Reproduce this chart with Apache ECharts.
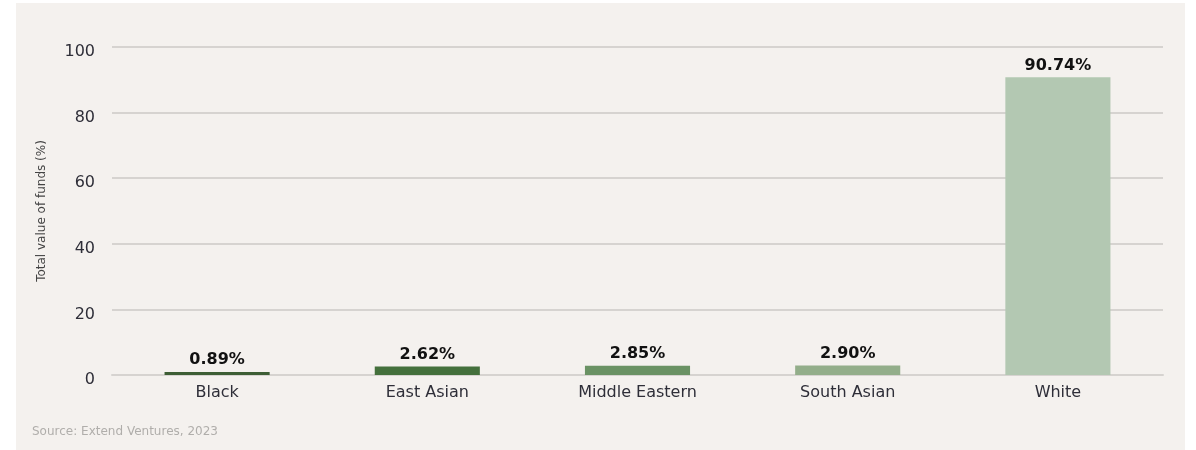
<!DOCTYPE html>
<html>
<head>
<meta charset="utf-8">
<script src="https://cdn.jsdelivr.net/npm/echarts@6/dist/echarts.min.js"></script>
<style>
  html, body { margin: 0; padding: 0; background: #ffffff; }
  .panel { position: absolute; left: 16px; top: 3px; width: 1169px; height: 447px; background: #f4f1ee; }
  .chart { position: absolute; left: 0; top: 0; width: 1196px; height: 450px; }
</style>
</head>
<body>
<div class="panel"></div>
<div class="chart"></div>
<script>
// 数据
var categories = ["Black", "East Asian", "Middle Eastern", "South Asian", "White"];
var values = [0.89, 2.62, 2.85, 2.90, 90.74];
var barColors = ["#3d5e35", "#44703c", "#6a9264", "#93ae8a", "#b3c8b2"];
var yTicks = { min: 0, max: 100, interval: 20 };

(function() {
    var myChart = echarts.init(document.querySelector(".chart"));
    var font = "'DejaVu Sans', sans-serif";
    var option = {
        backgroundColor: "transparent",
        textStyle: { fontFamily: font },
        grid: { left: 112, right: 33, top: 47, bottom: 75 },
        xAxis: {
            type: "category",
            data: categories,
            axisTick: { show: false },
            axisLine: { lineStyle: { color: "#d6d3d0", width: 2 } },
            axisLabel: { color: "#2e2e38", fontSize: 16, margin: 10, fontFamily: font }
        },
        yAxis: {
            type: "value",
            min: yTicks.min,
            max: yTicks.max,
            interval: yTicks.interval,
            name: "Total value of funds (%)",
            nameLocation: "middle",
            nameGap: 64,
            nameTextStyle: { color: "#444444", fontSize: 12, fontFamily: font },
            axisLine: { show: false },
            axisTick: { show: false },
            // 标签略低于网格线
            axisLabel: { color: "#2e2e38", fontSize: 16, margin: 17, verticalAlign: "top", lineHeight: 10, fontFamily: font },
            splitLine: { lineStyle: { color: "#d6d3d0", width: 2 } }
        },
        series: [{
            type: "bar",
            barWidth: "50%",
            data: values.map(function(v, i) {
                return { value: v, itemStyle: { color: barColors[i] } };
            }),
            label: {
                show: true,
                position: "top",
                distance: 4,
                color: "#111111",
                fontSize: 16,
                fontWeight: "bold",
                fontFamily: font,
                formatter: function(p) { return p.value.toFixed(2) + "%"; }
            }
        }],
        graphic: [{
            type: "text",
            left: 32,
            top: 426,
            style: { text: "Source: Extend Ventures, 2023", fill: "#b0aeab", fontSize: 12, fontFamily: font }
        }]
    };
    myChart.setOption(option);
    window.addEventListener("resize", function() {
        myChart.resize();
    });
})();
</script>
</body>
</html>
